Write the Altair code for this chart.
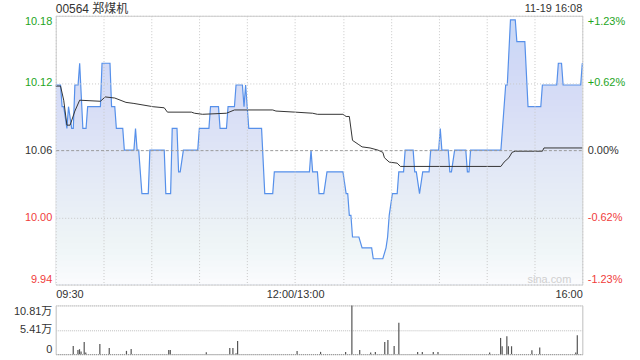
import altair as alt
import pandas as pd

FONT = "'Liberation Sans', 'Noto Sans CJK SC', sans-serif"
TITLE = "00564 郑煤机"
STAMP = "11-19 16:08"
WATERMARK = "sina.com"

# minute index since 09:30 (lunch removed), price vertices of the last-price line
price_min = [0, 3, 4, 5, 7, 8, 10, 11, 12, 14, 15, 17, 19, 20, 28, 29, 34, 35, 37, 38,
             42, 43, 49, 50, 51, 52, 54, 58, 59, 68, 69, 72, 73, 76, 77, 78, 80, 89, 90, 96,
             97, 102, 103, 107, 108, 112, 113, 117, 118, 119, 121, 129, 131, 136, 137, 159, 160, 161, 164, 165,
             168, 170, 180, 182, 183, 184, 185, 186, 190, 192, 198, 199, 205, 207, 208, 209, 211, 214, 215, 218,
             219, 224, 225, 226, 228, 230, 234, 235, 240, 241, 242, 246, 247, 248, 250, 257, 258, 259, 260, 279,
             282, 283, 285, 288, 289, 294, 296, 304, 305, 314, 315, 317, 318, 329, 330]
price_val = [10.12, 10.12, 10.10, 10.10, 10.08, 10.10, 10.08, 10.08, 10.12, 10.12, 10.14, 10.08, 10.08, 10.10, 10.10, 10.14, 10.14, 10.10, 10.10, 10.08,
             10.08, 10.06, 10.06, 10.08, 10.06, 10.06, 10.02, 10.02, 10.06, 10.06, 10.02, 10.02, 10.08, 10.08, 10.04, 10.04, 10.06, 10.06, 10.08, 10.08,
             10.10, 10.10, 10.08, 10.08, 10.10, 10.10, 10.12, 10.12, 10.10, 10.12, 10.08, 10.08, 10.02, 10.02, 10.04, 10.04, 10.06, 10.04, 10.04, 10.02,
             10.02, 10.04, 10.04, 10.02, 10.02, 10.00, 10.00, 9.98, 9.98, 9.97, 9.97, 9.96, 9.96, 9.97, 9.98, 10.00, 10.02, 10.02, 10.04, 10.04,
             10.06, 10.06, 10.04, 10.04, 10.02, 10.04, 10.04, 10.06, 10.06, 10.08, 10.06, 10.06, 10.04, 10.04, 10.06, 10.06, 10.04, 10.04, 10.06, 10.06,
             10.12, 10.12, 10.18, 10.18, 10.16, 10.16, 10.10, 10.10, 10.12, 10.12, 10.14, 10.14, 10.12, 10.12, 10.14]

# average price line vertices
avg_min = [0, 3, 5, 7, 9, 12, 15, 28, 31, 37, 44, 49, 61, 68, 70, 85, 87, 92, 107, 112,
           136, 138, 150, 161, 164, 180, 182, 184, 186, 190, 192, 197, 202, 205, 206, 209, 214, 216, 279, 281,
           284, 286, 288, 305, 306, 330]
avg_val = [10.119, 10.119, 10.106, 10.083, 10.083, 10.096, 10.106, 10.105, 10.109, 10.108, 10.104, 10.103, 10.100, 10.099, 10.095, 10.095, 10.094, 10.093, 10.094, 10.097,
           10.097, 10.096, 10.095, 10.094, 10.093, 10.093, 10.091, 10.091, 10.069, 10.065, 10.063, 10.062, 10.060, 10.058, 10.053, 10.049, 10.048, 10.045, 10.045, 10.049,
           10.053, 10.058, 10.059, 10.059, 10.062, 10.062]

# traded volume (shares) per minute, the visible bars
vol_min = [8, 11, 12, 13, 15, 16, 25, 31, 42, 45, 69, 70, 93, 108, 110, 112, 113, 151, 166, 182,
           186, 191, 198, 201, 207, 209, 213, 216, 228, 231, 238, 241, 274, 281, 282, 285, 286, 288, 301, 306,
           329, 330]
vol_val = [18300, 9500, 11000, 5800, 27000, 3700, 22600, 13900, 7300, 11700, 9500, 9500, 4400, 13900, 13900, 2200, 29200, 7300, 5100, 5100,
           108100, 9000, 3700, 5100, 27000, 31400, 18300, 69400, 5100, 5100, 5100, 5100, 3700, 36000, 17600, 39700, 17600, 17600, 8800, 14700,
           3700, 42000]

# axis ticks and labels
y_ticks = [9.93626, 9.99813, 10.06, 10.12187, 10.18374]
y_labels = ["9.94", "10.00", "10.06", "10.12", "10.18"]
pct_labels = ["-1.23%", "-0.62%", "0.00%", "+0.62%", "+1.23%"]
x_ticks = [0, 30, 60, 90, 120, 150, 180, 210, 240, 270, 300, 330]
x_label_at = [0, 150, 330]
x_label_txt = ["09:30", "12:00/13:00", "16:00"]
vol_ticks = [0, 54050, 108100]
vol_labels = ["0", "5.41万", "10.81万"]

GREEN = "#1ea51e"
RED = "#f03c3c"
DARK = "#333333"
GRIDC = "#c8c8c8"


def step_expr(ticks, labels):
    expr = repr(labels[-1])
    for i in range(len(ticks) - 2, -1, -1):
        mid = (ticks[i] + ticks[i + 1]) / 2
        expr = f"datum.value < {mid} ? {labels[i]!r} : ({expr})"
    return expr


def x_expr():
    parts = "''"
    for v, t in zip(reversed(x_label_at), reversed(x_label_txt)):
        parts = f"datum.value == {v} ? {t!r} : ({parts})"
    return parts


price_df = pd.DataFrame({"m": price_min, "p": price_val})
avg_df = pd.DataFrame({"m": avg_min, "p": avg_val})
vol_df = pd.DataFrame({"m": vol_min, "v": vol_val})

ymin, ymax = y_ticks[0], y_ticks[-1]
xscale = alt.Scale(domain=[0, 330], nice=False, zero=False)
yscale = alt.Scale(domain=[ymin, ymax], nice=False, zero=False)

# white veil layers that fade the area fill towards the bottom (a vertical gradient)
N_VEIL = 45
veil_top, veil_op = [], []
prev_w = 0.0
for k in range(1, N_VEIL + 1):
    f = k / N_VEIL
    w = 0.95 * f
    veil_top.append(ymax - f * (ymax - ymin) + (ymax - ymin) / N_VEIL)
    veil_op.append(1 - (1 - w) / (1 - prev_w))
    prev_w = w
veil_df = pd.DataFrame({"top": veil_top, "op": veil_op, "bot": [ymin] * N_VEIL,
                        "x0": [0] * N_VEIL, "x1": [330] * N_VEIL})

label_color = {"condition": [{"test": "datum.value > 10.07", "value": GREEN},
                             {"test": "datum.value < 10.05", "value": RED}],
               "value": DARK}

x_axis = alt.Axis(values=x_ticks, labelExpr=x_expr(), labelFlush=True, domain=False, ticks=False,
                  tickSize=0, labelPadding=4, grid=True, gridColor=GRIDC, gridDash=[1, 2],
                  labelFontSize=11, labelColor=DARK, labelFont=FONT, title=None, labelOverlap=False,
                  zindex=1)

left_axis = alt.Axis(orient="left", values=y_ticks, labelExpr=step_expr(y_ticks, y_labels),
                     labelFlush=True, domain=False, ticks=False, tickSize=0, labelPadding=4,
                     labelColor=label_color, labelFontSize=11, labelFont=FONT, title=None,
                     grid=True,
                     gridDash={"condition": {"test": "abs(datum.value - 10.06) < 0.001", "value": [3, 2]},
                               "value": [1, 2]},
                     gridColor={"condition": {"test": "abs(datum.value - 10.06) < 0.001", "value": "#9a9a9a"},
                                "value": GRIDC},
                     minExtent=55, maxExtent=55, labelOverlap=False, zindex=1)

right_axis = alt.Axis(orient="right", values=y_ticks, labelExpr=step_expr(y_ticks, pct_labels),
                      labelFlush=True, domain=False, ticks=False, tickSize=0, labelPadding=5,
                      labelColor=label_color, labelFontSize=11, labelFont=FONT, title=None,
                      grid=False, labelOverlap=False)

area = alt.Chart(price_df).mark_area(color="#c8d9f6", opacity=1, interpolate="linear", clip=True).encode(
    x=alt.X("m:Q", scale=xscale, axis=x_axis),
    y=alt.Y("p:Q", scale=yscale, axis=left_axis),
    y2=alt.datum(ymin),
)
veil = alt.Chart(veil_df).mark_rect(color="#ffffff", strokeWidth=0, clip=True).encode(
    x=alt.X("x0:Q", scale=xscale, axis=x_axis),
    x2="x1:Q",
    y=alt.Y("top:Q", scale=yscale, axis=None),
    y2="bot:Q",
    opacity=alt.Opacity("op:Q", scale=None, legend=None),
)
line = alt.Chart(price_df).mark_line(color="#5690ea", strokeWidth=1.2).encode(
    x=alt.X("m:Q", scale=xscale, axis=x_axis),
    y=alt.Y("p:Q", scale=yscale, axis=None),
)
avg = alt.Chart(avg_df).mark_line(color="#333333", strokeWidth=1).encode(
    x=alt.X("m:Q", scale=xscale, axis=x_axis),
    y=alt.Y("p:Q", scale=yscale, axis=right_axis),
)
title_t = alt.Chart(pd.DataFrame({"t": [TITLE]})).mark_text(
    align="left", baseline="middle", fontSize=12, font=FONT, color=DARK
).encode(x=alt.value(0), y=alt.value(-7), text="t:N")
stamp_t = alt.Chart(pd.DataFrame({"t": [STAMP]})).mark_text(
    align="right", baseline="middle", fontSize=11, font=FONT, color=DARK
).encode(x=alt.value(529), y=alt.value(-7), text="t:N")
wm_t = alt.Chart(pd.DataFrame({"t": [WATERMARK]})).mark_text(
    align="right", baseline="middle", fontSize=11, font=FONT, color="#cfcfcf"
).encode(x=alt.value(518), y=alt.value(265), text="t:N")

price = alt.layer(area, veil, line, avg, title_t, stamp_t, wm_t).resolve_axis(y="independent").properties(
    width=529, height=270, view=alt.ViewBackground(stroke="#cccccc", strokeWidth=1)
)

vscale = alt.Scale(domain=[0, vol_ticks[-1]], nice=False, zero=True)
vol_left = alt.Axis(orient="left", values=vol_ticks, labelExpr=step_expr(vol_ticks, vol_labels),
                    labelFlush=True, domain=True, domainColor="#cccccc", ticks=False, tickSize=0,
                    labelPadding=4, labelColor=DARK, labelFontSize=11, labelFont=FONT, title=None,
                    grid=True,
                    gridDash=[1, 1],
                    gridColor={"condition": {"test": "datum.value == 0", "value": "#888888"},
                               "value": "#bdbdbd"},
                    minExtent=55, maxExtent=55, labelOverlap=False)
vol_right = alt.Axis(orient="right", values=vol_ticks, labels=False, domain=True, domainColor="#cccccc",
                     ticks=False, grid=False, title=None)

bars = alt.Chart(vol_df).mark_bar(size=1.2, color="#555555").encode(
    x=alt.X("m:Q", scale=xscale, axis=None),
    y=alt.Y("v:Q", scale=vscale, axis=vol_left),
)
bars_r = alt.Chart(vol_df).mark_bar(size=1, opacity=0).encode(
    x=alt.X("m:Q", scale=xscale, axis=None),
    y=alt.Y("v:Q", scale=vscale, axis=vol_right),
)
volume = alt.layer(bars, bars_r).resolve_axis(y="independent").properties(width=529, height=49)

chart = alt.vconcat(price, volume, spacing=21, bounds="flush").properties(
    padding={"left": 0, "top": 1, "right": 14, "bottom": 4}
).configure_view(stroke=None).configure(font=FONT)

chart.save("out.html", embed_options={"renderer": "svg", "actions": False})
